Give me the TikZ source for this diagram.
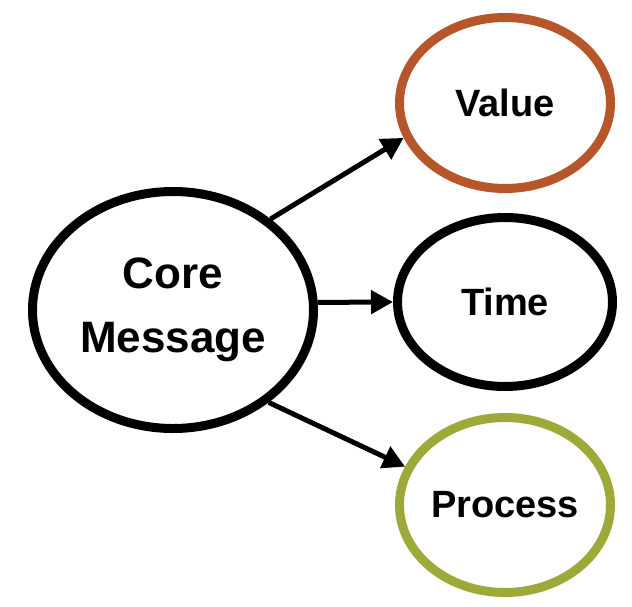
\documentclass[tikz,border=0pt]{standalone}
\usepackage{fontspec}
\setmainfont{Liberation Sans}
\usetikzlibrary{shapes.geometric,arrows.meta}

\definecolor{valuebrown}{RGB}{182,86,42}
\definecolor{processgreen}{RGB}{157,170,58}

\begin{document}
\begin{tikzpicture}[x=1pt,y=-1pt,
	bubble/.style={ellipse,draw,line width=9pt,inner sep=0pt,
		font=\bfseries\fontsize{38}{46}\selectfont,align=center},
	link/.style={line width=5pt,-{Triangle[length=22pt,width=23pt]}}]
	\useasboundingbox (0,0) rectangle (632,606);
	\node[bubble,font=\bfseries\fontsize{44}{64}\selectfont,minimum width=281pt,minimum height=237pt] (core) at (173,310) {Core\\Message};
	\node[bubble,draw=valuebrown,minimum width=211pt,minimum height=171pt] (value) at (505,103) {Value};
	\node[bubble,minimum width=215pt,minimum height=169pt] (time) at (505,302) {Time};
	\node[bubble,draw=processgreen,minimum width=211pt,minimum height=175pt] (process) at (505,505) {Process};
	\draw[link] (core.43) -- (value.199);
	\draw[link] (core.3) -- (time.west);
	\draw[link] (core.-44) -- (process.159);
\end{tikzpicture}
\end{document}
